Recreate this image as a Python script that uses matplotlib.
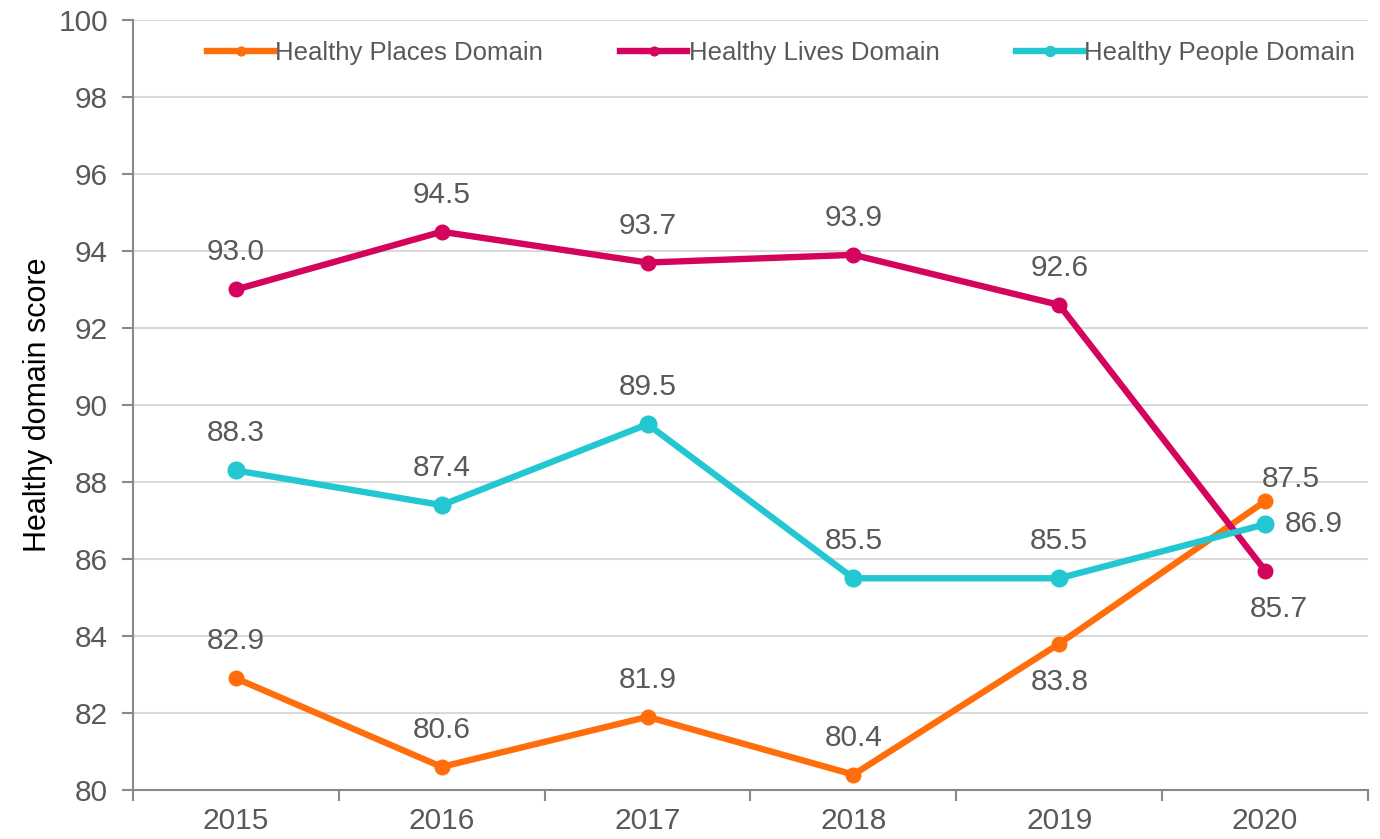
import numpy as np
import matplotlib.pyplot as plt
from matplotlib.ticker import FixedLocator

plt.rcParams['font.family'] = ['Liberation Sans', 'DejaVu Sans']

years = ['2015', '2016', '2017', '2018', '2019', '2020']
places = [82.9, 80.6, 81.9, 80.4, 83.8, 87.5]
lives = [93.0, 94.5, 93.7, 93.9, 92.6, 85.7]
people = [88.3, 87.4, 89.5, 85.5, 85.5, 86.9]

c_places = '#FF6E0A'
c_lives = '#D4045C'
c_people = '#22C7D2'
txt = '#595959'

fig = plt.figure(figsize=(13.8, 8.39), dpi=100)
ax = fig.add_axes([133 / 1380, 49 / 839, 1235 / 1380, 770 / 839])

x = np.arange(len(years))
ax.plot(x, places, color=c_places, lw=4.6, marker='o', ms=10.5, label='Healthy Places Domain', zorder=3)
ax.plot(x, lives, color=c_lives, lw=4.6, marker='o', ms=10.5, label='Healthy Lives Domain', zorder=3)
ax.plot(x, people, color=c_people, lw=4.6, marker='o', ms=12, label='Healthy People Domain', zorder=3)

ax.set_xlim(-0.5, 5.5)
ax.set_ylim(80, 100)
ax.set_yticks(np.arange(80, 101, 2))
ax.set_xticks(x)
ax.set_xticklabels(years)
ax.xaxis.set_minor_locator(FixedLocator(np.arange(-0.5, 5.6, 1)))
ax.tick_params(axis='x', which='major', length=0, pad=12, labelsize=21.5, labelcolor=txt)
ax.tick_params(axis='x', which='minor', length=8, width=1.5, color='#898989', direction='out')
ax.tick_params(axis='y', length=8, width=1.5, color='#898989', labelsize=21.5, labelcolor=txt, pad=10)
ax.grid(axis='y', color='#d9d9d9', lw=1.5, zorder=0)
for s in ['top', 'right']:
    ax.spines[s].set_visible(False)
for s in ['left', 'bottom']:
    ax.spines[s].set_color('#898989')
    ax.spines[s].set_linewidth(1.5)
ax.set_ylabel('Healthy domain score', fontsize=22, color='black')
ax.yaxis.set_label_coords(-0.065, 0.5)

def lab(xi, yi, dx, dy, ha='center'):
    ax.annotate('%.1f' % yi, (xi, yi), xytext=(dx, dy), textcoords='offset pixels',
                ha=ha, va='center', fontsize=21.5, color=txt)

for i, v in enumerate(lives[:5]):
    lab(i, v, 0, 37)
lab(5, lives[5], 14, -38)
for i, v in enumerate(places[:4]):
    lab(i, v, 0, 37)
lab(4, places[4], 0, -38)
lab(5, places[5], 26, 22)
for i, v in enumerate(people[:5]):
    lab(i, v, 0, 37)
lab(5, people[5], 20, 0, ha='left')

ax.legend(loc='upper center', bbox_to_anchor=(0.525, 1.003), ncol=3, frameon=False,
          fontsize=18.5, labelcolor=txt, handlelength=2.6, handletextpad=0.05,
          columnspacing=3.0, markerscale=0.6)

fig.savefig('out.png', dpi=100)
